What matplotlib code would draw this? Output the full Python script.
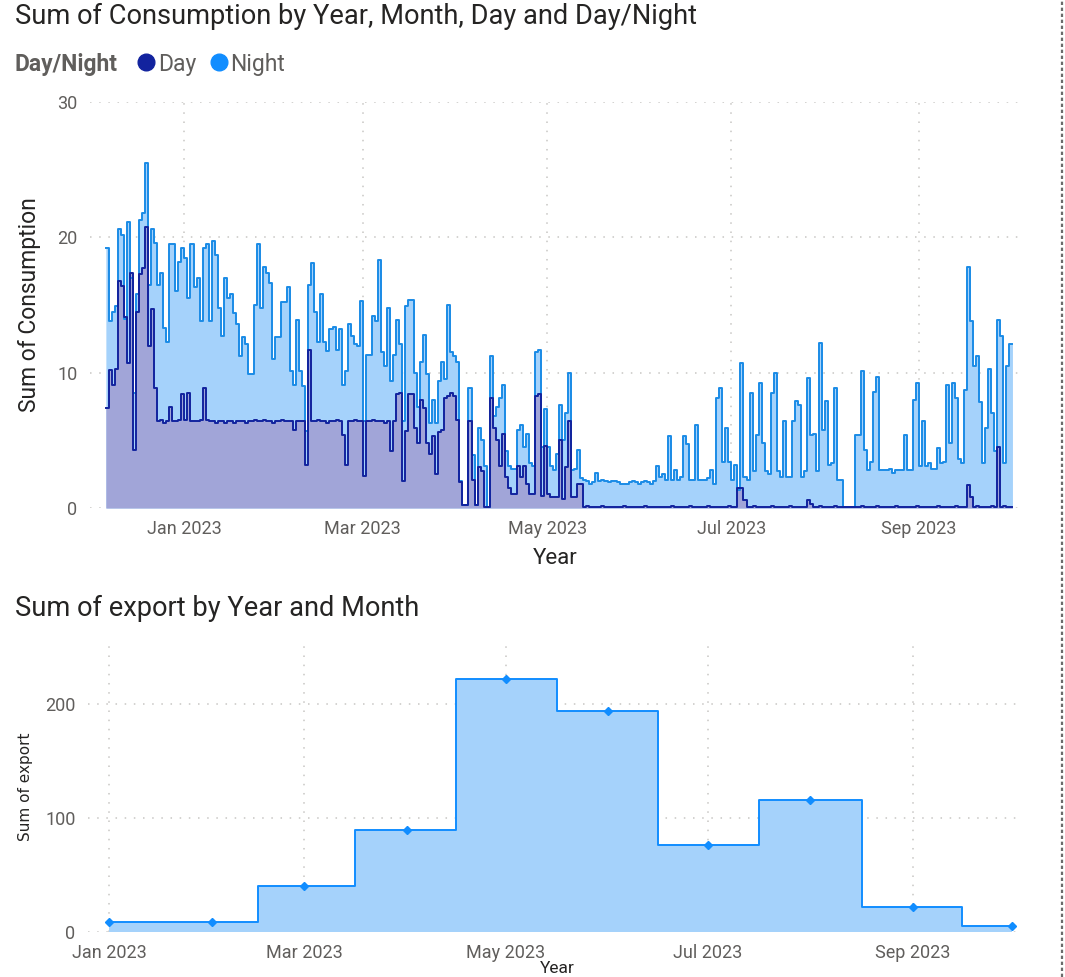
import matplotlib
matplotlib.use("Agg")
import matplotlib.pyplot as plt
import matplotlib.dates as mdates
from matplotlib.lines import Line2D
import numpy as np
import pandas as pd

plt.rcParams['font.family'] = ['Roboto', 'DejaVu Sans']

# daily consumption, first day 2022-12-06
start_day = "2022-12-06"
night = [
    # Dec - Jan
    19.2, 13.8, 14.5, 14.9, 20.6, 20.2, 14.0, 21.1, 17.0, 8.5, 15.8, 21.3, 21.8, 25.5,
    16.5, 20.6, 19.6, 16.5, 17.4, 13.3, 12.3, 19.5, 19.5, 16.0, 18.2, 19.2, 18.5, 15.5,
    19.5, 16.3, 17.0, 13.8, 19.2, 19.5, 13.8, 19.7, 18.7, 14.8, 12.7, 17.0, 15.5, 15.8,
    14.4, 13.6, 11.2, 12.6, 12.1, 9.9, 9.9, 15.0, 19.5,
    # Jan - Mar
    14.8, 17.8, 17.4, 16.6, 11.0, 12.6, 12.6, 15.2, 15.2, 16.3, 10.1, 9.1, 13.9, 10.1,
    9.0, 5.7, 16.5, 18.1, 14.5, 12.3, 15.8, 12.3, 11.6, 13.2, 13.4, 11.7, 13.2, 9.1,
    10.1, 13.6, 12.7, 12.1, 12.0, 15.3, 6.4, 11.3, 11.3, 14.2, 13.8, 18.3, 11.5, 10.5,
    14.8, 9.4, 11.3, 13.9, 12.1, 6.4, 14.9, 15.4, 15.4,
    # Mar - May
    10.0, 7.5, 10.8, 12.8, 9.9, 6.3, 8.0, 6.3, 9.4, 10.8, 9.5, 15.0, 11.5, 11.2, 10.8,
    2.0, 0.2, 0.2, 8.9, 3.9, 0.2, 5.9, 5.0, 3.1, 0.1, 11.2, 6.8, 7.5, 8.1, 9.1, 4.2,
    3.1, 2.9, 2.9, 5.8, 6.1, 4.5, 5.5, 3.3, 3.1, 11.5, 11.7, 4.5, 7.3, 4.5, 3.1, 2.8, 4.0,
    # May - Jun
    7.6, 5.0, 7.0, 10.0, 2.8, 2.9, 4.3, 2.2, 2.1, 2.0, 1.8, 1.9, 2.6, 2.0, 2.1, 2.0,
    1.9, 2.0, 2.0, 1.9, 1.8, 1.8, 1.8, 1.9, 2.0, 1.9, 1.8, 1.9, 2.0, 1.9, 1.8, 2.0,
    3.1, 2.3, 2.5, 2.1,
    # Jun - Aug
    5.3, 2.1, 2.8, 2.1, 2.3, 5.3, 4.7, 2.1, 2.1, 6.1, 2.1, 2.1, 2.1, 2.2, 2.8, 1.8,
    8.1, 8.9, 3.4, 5.9, 3.4, 2.1, 3.2, 1.3, 10.7, 2.3, 2.1, 8.5, 2.7, 5.4, 9.2, 4.8,
    2.7, 2.5, 8.5, 10.0, 2.7, 2.3, 6.4, 2.3, 2.3, 6.4, 7.9, 7.6, 2.3, 2.7, 9.6, 5.4,
    5.5, 2.7, 12.2, 5.8, 7.9, 3.2, 3.3, 8.9, 2.1, 2.1,
    0.1, 0.05, 0.05, 0.1,
    # Aug - Oct
    5.4, 5.4, 10.1, 4.3, 2.8, 3.4, 8.6, 9.7, 2.8, 2.8, 2.8, 2.9, 2.6, 2.8, 2.8, 2.8,
    5.4, 2.8, 2.8, 8.0, 9.2, 3.1, 6.4, 3.1, 3.3, 2.9, 2.9, 4.4, 3.3, 3.4, 9.1, 4.8,
    9.2, 8.1, 3.6, 3.3, 8.7, 17.8, 13.8, 10.5, 11.2, 7.8, 3.3, 5.9, 10.3, 7.0, 4.2,
    13.9, 12.7, 3.3, 10.5, 12.1,
]
day = [
    # Dec - Jan
    7.4, 10.2, 9.1, 10.3, 16.8, 16.4, 14.1, 10.7, 17.4, 4.3, 14.5, 17.3, 17.7, 20.8,
    12.0, 14.7, 8.9, 6.4, 6.5, 6.3, 6.4, 7.5, 6.4, 6.4, 6.5, 8.4, 6.5, 8.5, 6.4, 6.4,
    6.4, 6.5, 8.9, 6.5, 6.4, 6.4, 6.3, 6.4, 6.4, 6.3, 6.4, 6.4, 6.3, 6.4, 6.4, 6.4,
    6.3, 6.4, 6.4, 6.5, 6.4,
    # Jan - Mar
    6.4, 6.5, 6.4, 6.4, 6.3, 6.4, 6.4, 6.5, 6.4, 6.4, 6.4, 5.8, 6.4, 6.4, 6.4, 3.2,
    11.7, 6.4, 6.4, 6.5, 6.4, 6.4, 6.3, 6.4, 6.4, 6.5, 6.4, 5.4, 3.2, 6.4, 6.4, 6.5,
    6.4, 6.4, 2.4, 6.4, 6.4, 6.5, 6.4, 6.4, 6.4, 6.3, 6.4, 4.2, 6.4, 8.4, 8.5, 2.0,
    5.7, 8.4, 8.4,
    # Mar - May
    5.9, 4.8, 8.0, 7.4, 4.8, 4.0, 5.3, 2.5, 5.6, 5.8, 8.1, 8.3, 8.5, 8.3, 6.5, 1.9,
    0.2, 0.2, 6.4, 2.1, 0.2, 3.0, 2.7, 0.1, 0.1, 8.1, 5.9, 5.0, 3.1, 5.5, 2.3, 1.5,
    1.0, 1.0, 3.1, 2.3, 3.1, 1.8, 1.0, 1.0, 8.3, 8.4, 0.9, 4.6, 1.0, 0.8, 0.8, 0.8,
    # May - Jun
    5.0, 0.7, 3.0, 6.4, 0.8, 0.8, 1.8, 1.8, 0.1, 0.12, 0.1, 0.08, 0.1, 0.1, 0.12, 0.1,
    0.1, 0.08, 0.1, 0.1, 0.1, 0.12, 0.1, 0.1, 0.08, 0.1, 0.1, 0.1, 0.12, 0.1, 0.1, 0.1,
    0.08, 0.1, 0.1, 0.1,
    # Jun - Aug
    0.1, 0.12, 0.1, 0.1, 0.08, 0.1, 0.1, 0.12, 0.1, 0.1, 0.1, 0.08, 0.1, 0.12, 0.1, 0.1,
    0.1, 0.08, 0.1, 0.1, 0.12, 0.1, 0.1, 1.5, 1.5, 0.6, 0.1, 0.1, 0.12, 0.1, 0.08, 0.1,
    0.1, 0.1, 0.12, 0.1, 0.1, 0.08, 0.1, 0.1, 0.12, 0.1, 0.1, 0.1, 0.08, 0.1, 0.6, 0.3,
    0.1, 0.1, 0.12, 0.1, 0.08, 0.1, 0.1, 0.12, 0.1, 0.1,
    0.05, 0.05, 0.05, 0.05,
    # Aug - Oct
    0.1, 0.1, 0.12, 0.1, 0.08, 0.1, 0.1, 0.12, 0.1, 0.1, 0.1, 0.08, 0.1, 0.12, 0.1, 0.1,
    0.1, 0.08, 0.1, 0.1, 0.12, 0.1, 0.1, 0.1, 0.08, 0.1, 0.1, 0.12, 0.1, 0.1, 0.1, 0.08,
    0.1, 0.12, 0.1, 0.1, 0.1, 1.7, 0.8, 0.1, 0.12, 0.1, 0.08, 0.1, 0.1, 0.12, 0.1, 4.5,
    0.1, 0.12, 0.1, 0.08,
]

# monthly export
months = ["2023-01-01", "2023-02-01", "2023-03-01", "2023-04-01", "2023-05-01",
          "2023-06-01", "2023-07-01", "2023-08-01", "2023-09-01", "2023-10-01"]
export = [9, 9, 40, 89, 222, 194, 76, 116, 22, 5]

tick_dates = ["2023-01-01", "2023-03-01", "2023-05-01", "2023-07-01", "2023-09-01"]

c_night = "#1A8BE6"
c_night_fill = "#A5D2FB"
c_day = "#12239E"
c_day_fill = "#A1A5D8"
c_text = "#252423"
c_tick = "#605E5C"
c_grid = "#C8C6C4"

fig = plt.figure(figsize=(10.65, 9.77), dpi=100)

# ---- top chart ----
ax1 = fig.add_axes([90 / 1065, 1 - 508 / 977, 930 / 1065, 406 / 977])
x = pd.date_range(start_day, periods=len(night) + 1, freq="D")
yn = np.append(night, night[-1])
yd = np.append(day, day[-1])
ax1.fill_between(x, 0, yn, step="post", color=c_night_fill, lw=0, zorder=1)
ax1.fill_between(x, 0, yd, step="post", color=c_day_fill, lw=0, zorder=2)
ax1.plot(x, yn, drawstyle="steps-post", color=c_night, lw=1.4, zorder=3)
ax1.plot(x, yd, drawstyle="steps-post", color=c_day, lw=1.4, zorder=4)

ax1.set_xlim(pd.Timestamp("2022-11-30 18:00"), pd.Timestamp("2023-10-04 12:00"))
ax1.set_ylim(0, 30)
ax1.set_yticks([0, 10, 20, 30])
ax1.set_xticks(pd.to_datetime(tick_dates))
ax1.xaxis.set_major_formatter(mdates.DateFormatter("%b %Y"))
ax1.set_xlabel("Year", fontsize=16, color=c_text, labelpad=7)
ax1.set_ylabel("Sum of Consumption", fontsize=16.5, color=c_text, labelpad=12)

# ---- bottom chart ----
ax2 = fig.add_axes([88 / 1065, 1 - 932 / 977, 934 / 1065, 290 / 977])
mx = pd.to_datetime(months)
ax2.fill_between(mx, 0, export, step="mid", color=c_night_fill, lw=0, zorder=1)
ax2.plot(mx, export, drawstyle="steps-mid", color="#118DFF", lw=1.4, zorder=3)
ax2.plot(mx, export, "D", ms=4, color="#118DFF", zorder=4)
ax2.set_xlim(pd.Timestamp("2022-12-25 16:00"), pd.Timestamp("2023-10-04"))
ax2.set_ylim(0, 254)
ax2.set_yticks([0, 100, 200])
ax2.set_xticks(pd.to_datetime(tick_dates))
ax2.xaxis.set_major_formatter(mdates.DateFormatter("%b %Y"))
ax2.set_ylabel("Sum of export", fontsize=11, color=c_text, labelpad=9,
               family=["DejaVu Sans"])

for ax in (ax1, ax2):
    for s in ax.spines.values():
        s.set_visible(False)
    ax.tick_params(length=0, labelsize=13, labelcolor=c_tick, pad=9)
    ax.grid(True, color=c_grid, lw=1.1, ls=(0, (1, 5)), zorder=0)
    ax.set_axisbelow(True)

# titles and legend
fig.text(15 / 1065, 1 - 16 / 977, "Sum of Consumption by Year, Month, Day and Day/Night",
         fontsize=19.6, color=c_text, va="center", ha="left")
fig.text(15 / 1065, 1 - 608 / 977, "Sum of export by Year and Month",
         fontsize=19.6, color=c_text, va="center", ha="left")
fig.text(15 / 1065, 1 - 64 / 977, "Day/Night", fontsize=16.5, weight="bold",
         color=c_tick, va="center", ha="left")
handles = [Line2D([], [], marker="o", ls="", color=c_day, ms=12, label="Day"),
           Line2D([], [], marker="o", ls="", color="#118DFF", ms=12, label="Night")]
fig.legend(handles=handles, loc="center left", bbox_to_anchor=(137 / 1065, 1 - 64 / 977),
           ncol=2, frameon=False, fontsize=16.5, labelcolor=c_tick, handlelength=0.8,
           handletextpad=0.1, columnspacing=0.6, borderpad=0, borderaxespad=0)
fig.text(557 / 1065, 0.001, "Year", fontsize=12.5, color=c_text, ha="center", va="bottom")

# dashed border on the right
fig.add_artist(Line2D([1062 / 1065, 1062 / 1065], [0, 1], transform=fig.transFigure,
                      color="#6b6b6b", lw=1.6, ls=(0, (1.5, 1.2))))

fig.savefig("out.png", dpi=100)
